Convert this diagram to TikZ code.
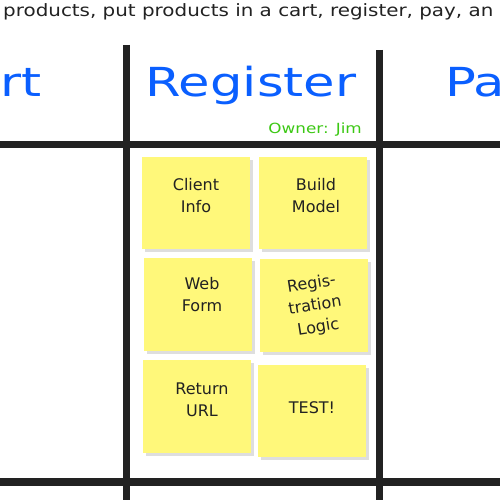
\documentclass[tikz,border=0pt]{standalone}
\usepackage{fontspec}
\usepackage{graphicx}
\setmainfont{DejaVu Sans}
\usetikzlibrary{shadows}
\definecolor{lanecol}{RGB}{34,34,34}
\definecolor{titleblue}{RGB}{10,95,255}
\definecolor{ownergreen}{RGB}{60,200,20}
\definecolor{stickyyellow}{RGB}{255,248,122}
\definecolor{inkcol}{RGB}{34,34,34}
\tikzset{
  laneline/.style={draw=lanecol, line width=7.5pt},
  sticky/.style={fill=stickyyellow, minimum width=108pt, minimum height=92pt, inner sep=0pt,
    drop shadow={shadow xshift=2.5pt, shadow yshift=-3pt, fill=black!13, opacity=1}},
  stickytext/.style={text=inkcol, font=\fontsize{16}{22}\selectfont, align=center, inner sep=0pt},
  titletext/.style={text=titleblue, font=\fontsize{40}{44}\selectfont, inner sep=0pt},
}
\begin{document}
\begin{tikzpicture}[x=1pt,y=-1pt]
\useasboundingbox (0,0) rectangle (500,500);
\clip (0,0) rectangle (500,500);
\fill[white] (0,0) rectangle (500,500);
% heading text
\node[anchor=base west, inner sep=0pt, text=inkcol, font=\fontsize{17}{20}\selectfont] (story) at (3,17)
  {\scalebox{1.17}[1]{products, put products in a cart, register, pay, an}};
% lane grid
\coordinate (vlt) at (126,45);  \coordinate (vlb) at (126,500);
\coordinate (vrt) at (379.5,50); \coordinate (vrb) at (379.5,500);
\coordinate (hul) at (0,144.5); \coordinate (hur) at (500,144.5);
\coordinate (hll) at (0,482);   \coordinate (hlr) at (500,482);
\draw[laneline] (hul) -- (hur);
\draw[laneline] (hll) -- (hlr);
\draw[laneline, line width=7pt] (vlt) -- (vlb);
\draw[laneline, line width=7pt] (vrt) -- (vrb);
% titles
\node[titletext, anchor=base east] (cart) at (42,96) {\scalebox{1.28}[1]{rt}};
\node[titletext, anchor=base] (register) at (251,97) {\scalebox{1.28}[1]{Register}};
\node[titletext, anchor=base west] (pay) at (445,96) {\scalebox{1.28}[1]{Pa}};
\node[anchor=base east, inner sep=0pt, text=ownergreen, font=\fontsize{14}{16}\selectfont] (owner) at (362,133)
  {\scalebox{1.2}[1]{Owner: Jim}};
% sticky notes
\node[sticky] (n1) at (196,203) {};
\node[sticky] (n2) at (313,203) {};
\node[sticky, minimum height=93pt] (n3) at (198,304.5) {};
\node[sticky, minimum height=93pt] (n4) at (314,305.5) {};
\node[sticky, minimum height=93pt] (n5) at (197,406.5) {};
\node[sticky] (n6) at (312,411) {};
\node[stickytext] (t1) at (196,196) {Client\\Info};
\node[stickytext] (t2) at (316,196) {Build\\Model};
\node[stickytext] (t3) at (202,295) {Web\\Form};
\node[stickytext, rotate=9] (t4) at (315,306) {Regis-\\tration\\Logic};
\node[stickytext] (t5) at (202,400) {Return\\URL};
\node[stickytext] (t6) at (312,408) {TEST!};
\end{tikzpicture}
\end{document}
